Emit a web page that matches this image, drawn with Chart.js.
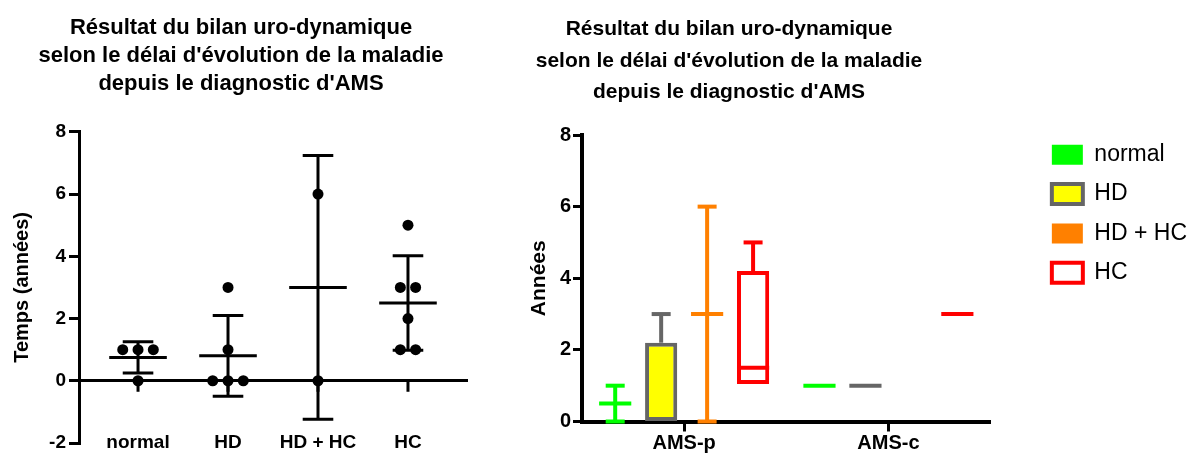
<!DOCTYPE html>
<html>
<head>
<meta charset="utf-8">
<script src="https://cdn.jsdelivr.net/npm/chart.js@4.4.1/dist/chart.umd.min.js"></script>
<style>
  html, body { margin: 0; padding: 0; background: #fff; overflow: hidden; }
  #left { position: absolute; left: 0; top: 0; }
  #right { position: absolute; left: 261px; top: 0; }
</style>
</head>
<body>
<canvas id="left" width="482" height="454"></canvas>
<canvas id="right" width="936" height="454"></canvas>
<script>
const FONT = "'Liberation Sans', Arial, sans-serif";
const titleLines = ['Résultat du bilan uro-dynamique', "selon le délai d'évolution de la maladie", "depuis le diagnostic d'AMS"];

// left chart: individual values, mean and SD per group
const groups = ['normal', 'HD', 'HD + HC', 'HC'];
const groupValues = [[1, 1, 1, 0], [3, 1, 0, 0, 0], [6, 0], [5, 3, 3, 2, 1, 1]];
const groupMeans = [0.75, 0.8, 3, 2.5];
const groupSD = [0.5, 1.3, 4.24, 1.52];
const leftTicks = [-2, 0, 2, 4, 6, 8];

// right chart: box plots per period
const periods = ['AMS-p', 'AMS-c'];
const series = ['normal', 'HD', 'HD + HC', 'HC'];
const seriesFill = ['#00FF00', '#FFFF00', '#FF8000', '#FFFFFF'];
const seriesLine = ['#00FF00', '#666666', '#FF8000', '#FF0000'];
const boxLow = [[null, null], [0, null], [null, null], [1.05, null]];
const boxHigh = [[null, null], [2.2, null], [null, null], [4.2, null]];
const whiskerLow = [[0, null], [0, null], [0, null], [1, null]];
const whiskerHigh = [[1, null], [3, null], [6, null], [5, null]];
const medians = [[0.5, 1], [null, 1], [3, null], [1.5, 3]];
const rightTicks = [0, 2, 4, 6, 8];

// spread equal values side by side
const points = [];
groupValues.forEach((vals, g) => {
    const counts = {}, seen = {};
    vals.forEach(v => counts[v] = (counts[v] || 0) + 1);
    vals.forEach(v => {
        const k = seen[v] || 0;
        seen[v] = k + 1;
        points.push({ x: g + 1 + (k - (counts[v] - 1) / 2) * 0.17, y: v });
    });
});

const meanSegments = [], sdSegments = [];
groups.forEach((g, i) => {
    const c = i + 1, m = groupMeans[i], lo = m - groupSD[i], hi = m + groupSD[i];
    meanSegments.push({ x: c - 0.32, y: m }, { x: c + 0.32, y: m }, { x: c, y: null });
    sdSegments.push({ x: c, y: lo }, { x: c, y: hi }, { x: c, y: null });
    sdSegments.push({ x: c - 0.17, y: hi }, { x: c + 0.17, y: hi }, { x: c, y: null });
    sdSegments.push({ x: c - 0.17, y: lo }, { x: c + 0.17, y: lo }, { x: c, y: null });
});

// small tick marks under the zero line
const zeroAxisTicks = {
    id: 'zeroAxisTicks',
    afterDatasetsDraw(chart) {
        const { ctx, scales: { x, y } } = chart;
        const y0 = y.getPixelForValue(0);
        ctx.save();
        ctx.strokeStyle = '#000';
        ctx.lineWidth = 3;
        x.ticks.forEach(t => {
            const px = x.getPixelForValue(t.value);
            ctx.beginPath();
            ctx.moveTo(px, y0);
            ctx.lineTo(px, y0 + 11);
            ctx.stroke();
        });
        ctx.restore();
    }
};

new Chart(document.getElementById('left'), {
    type: 'scatter',
    data: {
        datasets: [
            { type: 'line', data: meanSegments, borderColor: '#000', borderWidth: 3, pointRadius: 0 },
            { type: 'line', data: sdSegments, borderColor: '#000', borderWidth: 3, pointRadius: 0 },
            { data: points, pointRadius: 5.5, backgroundColor: '#000', borderWidth: 0 }
        ]
    },
    options: {
        responsive: false,
        animation: false,
        layout: { padding: 0 },
        plugins: {
            legend: { display: false },
            tooltip: { enabled: false },
            title: {
                display: true,
                text: titleLines,
                color: '#000',
                font: { size: 22, weight: 'bold', family: FONT, lineHeight: 1.27 },
                padding: { top: 14, bottom: 34 }
            }
        },
        scales: {
            x: {
                type: 'linear',
                min: 0.344,
                max: 4.667,
                afterBuildTicks: s => { s.ticks = groups.map((g, i) => ({ value: i + 1 })); },
                afterFit: s => { s.height = 11; },
                grid: { display: false, drawTicks: false },
                border: { display: false },
                ticks: {
                    color: '#000',
                    mirror: true,
                    padding: -11,
                    autoSkip: false,
                    maxRotation: 0,
                    font: { size: 19, weight: 'bold', family: FONT },
                    callback: v => groups[v - 1]
                }
            },
            y: {
                min: -2,
                max: 8,
                afterBuildTicks: s => { s.ticks = leftTicks.map(v => ({ value: v })); },
                afterFit: s => { s.width = 79; },
                grid: {
                    color: c => c.tick && c.tick.value === 0 ? '#000' : 'rgba(0,0,0,0)',
                    lineWidth: 3,
                    tickColor: '#000',
                    tickLength: 10,
                    tickWidth: 3
                },
                border: { color: '#000', width: 3 },
                ticks: { color: '#000', padding: 3, font: { size: 19, weight: 'bold', family: FONT, lineHeight: 0.7 } },
                title: {
                    display: true,
                    text: 'Temps (années)',
                    color: '#000',
                    font: { size: 20, weight: 'bold', family: FONT },
                    padding: { top: 10, bottom: 0 }
                }
            },
            // empty space right of the plot
            yR: {
                type: 'linear',
                position: 'right',
                display: false,
                afterFit: s => { s.width = 14; }
            }
        }
    },
    plugins: [zeroAxisTicks]
});

// whiskers, caps and median lines drawn at each bar's position
const boxWhiskers = {
    id: 'boxWhiskers',
    afterDatasetsDraw(chart) {
        const { ctx, scales: { y } } = chart;
        const seg = (x1, v1, x2, v2) => {
            ctx.beginPath();
            ctx.moveTo(x1, y.getPixelForValue(v1));
            ctx.lineTo(x2, y.getPixelForValue(v2));
            ctx.stroke();
        };
        ctx.save();
        ctx.lineWidth = 4;
        series.forEach((name, i) => {
            chart.getDatasetMeta(i).data.forEach((bar, j) => {
                const cx = bar.x, half = bar.width / 2, cap = 9.5;
                const lo = whiskerLow[i][j], hi = whiskerHigh[i][j];
                const hasBox = boxLow[i][j] !== null;
                ctx.strokeStyle = seriesLine[i];
                if (hi !== null) {
                    seg(cx, hasBox ? boxHigh[i][j] : lo, cx, hi);
                    seg(cx - cap, hi, cx + cap, hi);
                }
                if (lo !== null && !hasBox) {
                    seg(cx - cap, lo, cx + cap, lo);
                }
                if (medians[i][j] !== null) {
                    seg(cx - half, medians[i][j], cx + half, medians[i][j]);
                }
            });
        });
        ctx.restore();
    }
};

new Chart(document.getElementById('right'), {
    type: 'bar',
    data: {
        labels: periods,
        datasets: series.map((name, i) => ({
            label: name,
            data: boxLow[i].map((lo, j) => lo === null ? null : [lo, boxHigh[i][j]]),
            backgroundColor: seriesFill[i],
            borderColor: seriesLine[i],
            borderWidth: (i === 1 || i === 3) ? 4 : 0,
            borderSkipped: false,
            categoryPercentage: 0.9,
            barPercentage: 0.7,
            yAxisID: 'y'
        }))
    },
    options: {
        responsive: false,
        animation: false,
        layout: { padding: 0 },
        plugins: {
            tooltip: { enabled: false },
            title: {
                display: true,
                text: titleLines,
                color: '#000',
                font: { size: 21, weight: 'bold', family: FONT, lineHeight: 1.5 },
                padding: { top: 13.5, bottom: 27 }
            },
            legend: {
                position: 'right',
                align: 'start',
                title: { display: true, text: '', font: { size: 10, lineHeight: 1 }, padding: { top: 117, bottom: 0 } },
                labels: {
                    boxWidth: 31,
                    boxHeight: 20,
                    padding: 16.3,
                    color: '#000',
                    font: { size: 23, family: FONT }
                }
            }
        },
        scales: {
            x: {
                offset: true,
                afterFit: s => { s.height = 32.5; },
                grid: { display: true, drawOnChartArea: false, offset: false, tickLength: 10, tickWidth: 3, tickColor: '#000' },
                border: { display: true, color: '#000', width: 4 },
                ticks: { color: '#000', padding: 0, font: { size: 20, weight: 'bold', family: FONT } }
            },
            y: {
                min: 0,
                max: 8,
                afterBuildTicks: s => { s.ticks = rightTicks.map(v => ({ value: v })); },
                afterFit: s => { s.width = 321; },
                grid: { drawOnChartArea: false, tickLength: 9, tickWidth: 3, tickColor: '#000' },
                border: { color: '#000', width: 4 },
                ticks: { color: '#000', padding: 2, font: { size: 20, weight: 'bold', family: FONT } },
                title: {
                    display: true,
                    text: 'Années',
                    color: '#000',
                    font: { size: 21, weight: 'bold', family: FONT },
                    padding: { top: 266, bottom: 8 }
                }
            },
            // empty space between the plot and the legend
            yR: {
                type: 'linear',
                position: 'right',
                display: false,
                afterFit: s => { s.width = 45; }
            }
        }
    },
    plugins: [boxWhiskers]
});
</script>
</body>
</html>
